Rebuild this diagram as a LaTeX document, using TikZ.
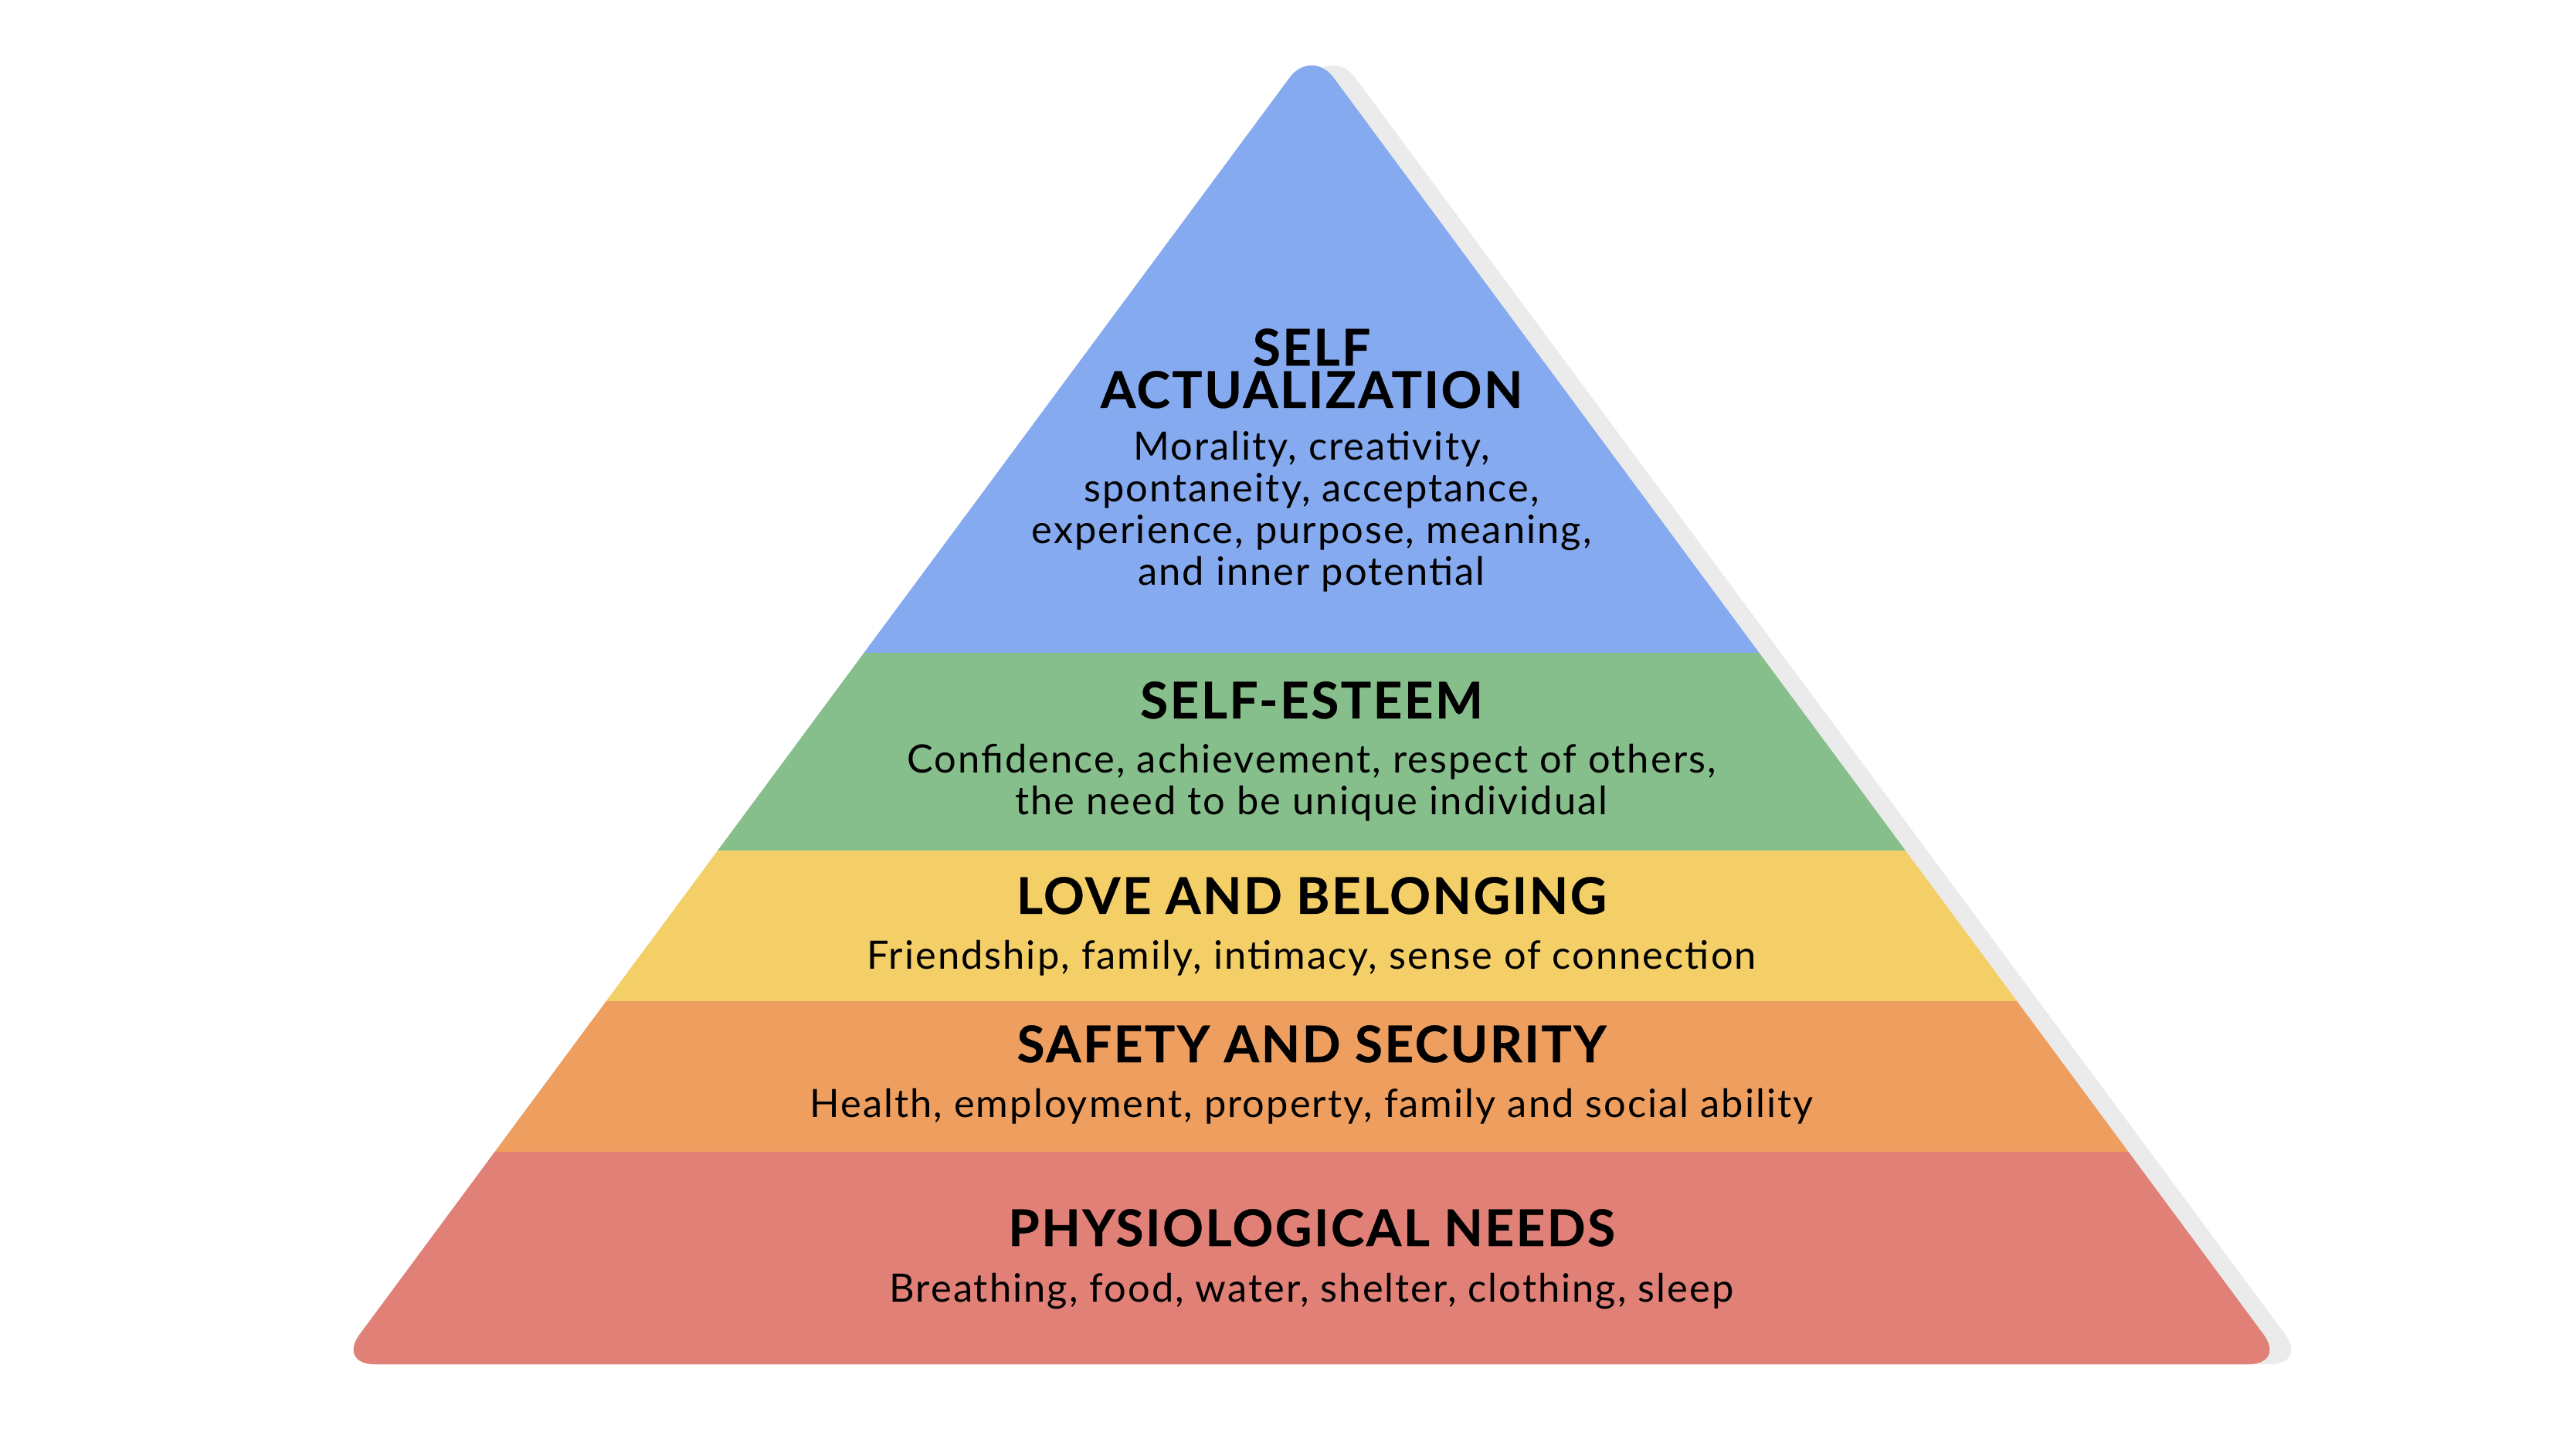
\documentclass[tikz,border=0pt]{standalone}
\usepackage{fontspec}
\setmainfont{Lato}
\newfontfamily\pyrfont{Lato}[LetterSpace=4.0, BoldFeatures={FakeBold=0.5}]
\definecolor{lvlshadow}{RGB}{235,235,235}
\definecolor{lvlblue}{RGB}{134,170,240}
\definecolor{lvlgreen}{RGB}{135,191,140}
\definecolor{lvlyellow}{RGB}{244,207,103}
\definecolor{lvlorange}{RGB}{238,158,94}
\definecolor{lvlred}{RGB}{224,128,119}

\begin{document}
\begin{tikzpicture}[
    title/.style={anchor=base, inner sep=0pt, align=center, font=\pyrfont\fontsize{18.6}{15.6}\selectfont\bfseries},
    desc/.style={anchor=base, inner sep=0pt, align=center, font=\pyrfont\fontsize{14.4}{15.4}\selectfont}]
        \useasboundingbox (0, 0) rectangle (33.35, 18.76);

        % shadow
        \fill[lvlshadow, rounded corners=4.8mm] (4.65, 1.10) -- (29.87, 1.10) -- (17.26, 18.14) -- cycle;

        % levels
        \begin{scope}
        \clip[rounded corners=4.8mm] (4.37, 1.10) -- (29.59, 1.10) -- (16.98, 18.14) -- cycle;
        \fill[lvlred] (4, 1) rectangle (30, 3.85);
        \fill[lvlorange] (4, 3.85) rectangle (30, 5.80);
        \fill[lvlyellow] (4, 5.80) rectangle (30, 7.75);
        \fill[lvlgreen] (4, 7.75) rectangle (30, 10.31);
        \fill[lvlblue] (4, 10.31) rectangle (30, 18.5);
        \end{scope}

        % base anchor sits on the last line
        \node[title] (self) at (16.98, 13.48) {SELF\\ACTUALIZATION};
        \node[desc] (selfdesc) at (16.98, 11.18) {Morality, creativity,\\spontaneity, acceptance,\\experience, purpose, meaning,\\and inner potential};

        \node[title] (esteem) at (16.98, 9.46) {SELF-ESTEEM};
        \node[desc] (esteemdesc) at (16.98, 8.21) {Confidence, achievement, respect of others,\\the need to be unique individual};

        \node[title] (love) at (16.98, 6.93) {LOVE AND BELONGING};
        \node[desc] (lovedesc) at (16.98, 6.21) {Friendship, family, intimacy, sense of connection};

        \node[title] (safety) at (16.98, 5.01) {SAFETY AND SECURITY};
        \node[desc] (safetydesc) at (16.98, 4.30) {Health, employment, property, family and social ability};

        \node[title] (phys) at (16.98, 2.63) {PHYSIOLOGICAL NEEDS};
        \node[desc] (physdesc) at (16.98, 1.91) {Breathing, food, water, shelter, clothing, sleep};
\end{tikzpicture}
\end{document}
